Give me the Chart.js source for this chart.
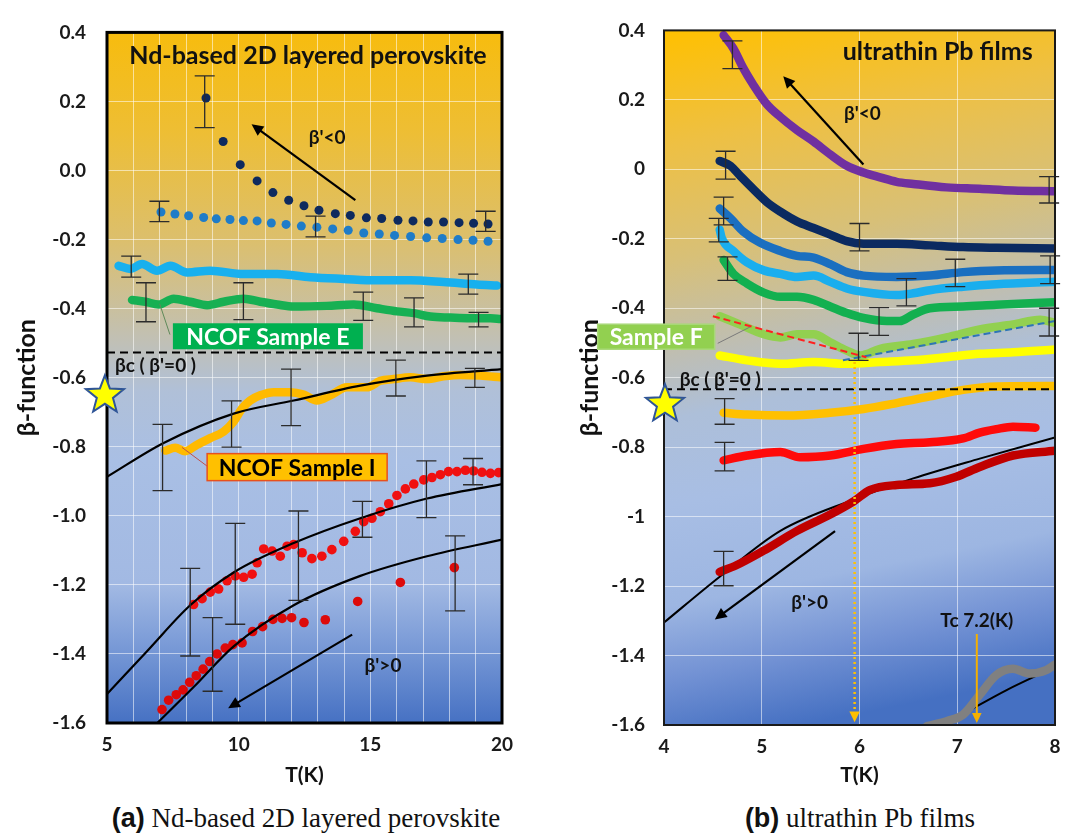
<!DOCTYPE html>
<html>
<head>
<meta charset="utf-8">
<script src="https://cdn.jsdelivr.net/npm/chart.js@4.4.1/dist/chart.umd.min.js"></script>
<style>
  body { margin: 0; background: #fff; width: 1072px; height: 837px; position: relative; overflow: hidden; }
  #wrapA { position: absolute; left: 0; top: 0; }
  #wrapB { position: absolute; left: 545px; top: 0; }
  .caption { position: absolute; top: 802px; height: 32px; line-height: 32px; text-align: center;
             font-family: "Liberation Serif", serif; font-size: 27px; color: #111; }
  .caption b { font-family: "Liberation Sans Narrow", "Liberation Sans", sans-serif; font-stretch: condensed; }
</style>
</head>
<body>
<div id="wrapA"><canvas id="chartA" width="545" height="795"></canvas></div>
<div id="wrapB"><canvas id="chartB" width="527" height="795"></canvas></div>
<div class="caption" style="left:0;width:612px"><b>(a)</b> Nd-based 2D layered perovskite</div>
<div class="caption" style="left:560px;width:600px"><b>(b)</b> ultrathin Pb films</div>

<script>
// ---------- (a) Nd-based 2D layered perovskite : [T(K), beta] ----------
const aNavy = [[8.76,0.21],[9.41,0.084],[10.06,0.017],[10.70,-0.030],[11.30,-0.064],[11.90,-0.086],[12.48,-0.102],
  [13.05,-0.115],[13.67,-0.125],[14.24,-0.130],[14.85,-0.137],[15.43,-0.139],[16.05,-0.144],[16.62,-0.146],
  [17.20,-0.149],[17.78,-0.149],[18.37,-0.151],[18.92,-0.153],[19.47,-0.155]];
const aBlue = [[7.05,-0.120],[7.58,-0.126],[8.10,-0.131],[8.67,-0.136],[9.15,-0.140],[9.67,-0.142],[10.18,-0.145],
  [10.70,-0.146],[11.24,-0.152],[11.80,-0.156],[12.38,-0.161],[12.97,-0.164],[13.57,-0.169],[14.16,-0.173],
  [14.75,-0.181],[15.34,-0.184],[15.92,-0.188],[16.53,-0.191],[17.14,-0.195],[17.73,-0.197],[18.33,-0.200],
  [18.90,-0.202],[19.47,-0.205]];
const aCyan = [[5.44,-0.276],[5.89,-0.285],[6.33,-0.271],[6.90,-0.290],[7.41,-0.276],[8.04,-0.295],[8.92,-0.290],
  [10.19,-0.300],[11.46,-0.300],[12.72,-0.309],[13.99,-0.314],[15.25,-0.318],[16.52,-0.318],[17.78,-0.323],
  [19.05,-0.330],[19.81,-0.333]];
const aGreen = [[5.95,-0.375],[6.46,-0.380],[6.96,-0.388],[7.53,-0.371],[8.16,-0.380],[8.80,-0.390],[9.43,-0.380],
  [10.19,-0.371],[10.82,-0.380],[11.46,-0.388],[12.09,-0.394],[13.35,-0.392],[14.37,-0.388],[15.25,-0.399],
  [16.01,-0.408],[16.65,-0.413],[17.28,-0.423],[18.04,-0.426],[18.80,-0.428],[19.56,-0.428],[19.94,-0.430]];
const aSampleI = [[7.22,-0.811],[7.59,-0.803],[7.97,-0.813],[8.42,-0.794],[8.92,-0.775],[9.43,-0.756],[9.81,-0.727],
  [10.13,-0.689],[10.44,-0.666],[10.82,-0.651],[11.33,-0.642],[11.96,-0.642],[12.47,-0.649],[12.97,-0.666],
  [13.48,-0.651],[14.11,-0.628],[14.87,-0.628],[15.38,-0.609],[15.89,-0.604],[16.52,-0.599],[17.15,-0.604],
  [17.78,-0.596],[18.42,-0.592],[19.18,-0.594],[19.94,-0.599]];
const aRed = [[8.29,-1.257],[8.61,-1.240],[8.92,-1.221],[9.24,-1.212],[9.56,-1.188],[9.87,-1.174],[10.19,-1.178],
  [10.51,-1.169],[10.70,-1.136],[10.95,-1.096],[11.27,-1.102],[11.58,-1.117],[11.84,-1.088],[12.09,-1.083],
  [12.41,-1.107],[12.78,-1.124],[13.16,-1.117],[13.54,-1.098],[13.99,-1.074],[14.43,-1.045],[14.75,-1.017],
  [15.06,-1.007],[15.38,-0.988],[15.70,-0.965],[16.01,-0.941],[16.33,-0.922],[16.65,-0.908],[17.03,-0.896],
  [17.34,-0.889],[17.66,-0.881],[17.97,-0.872],[18.29,-0.872],[18.61,-0.868],[18.92,-0.870],[19.24,-0.874],
  [19.56,-0.877],[19.87,-0.875]];
const aDarkRed = [[7.09,-1.561],[7.34,-1.534],[7.63,-1.518],[7.89,-1.504],[8.14,-1.482],[8.39,-1.463],[8.65,-1.444],
  [8.90,-1.422],[9.18,-1.400],[9.49,-1.383],[9.78,-1.373],[10.13,-1.368],[10.53,-1.335],[10.91,-1.321],
  [11.30,-1.300],[11.65,-1.297],[12.01,-1.295],[12.48,-1.309],[13.29,-1.301],[14.52,-1.248],[16.14,-1.193],
  [18.19,-1.150]];
const aFit1 = [[5.0,-0.887],[7.15,-0.789],[9.81,-0.704],[12.09,-0.666],[14.62,-0.623],[17.15,-0.594],[20.0,-0.575]];
const aFit2 = [[5.0,-1.516],[6.52,-1.392],[8.16,-1.259],[9.81,-1.164],[12.09,-1.079],[14.62,-1.007],[17.15,-0.950],[20.0,-0.908]];
const aFit3 = [[6.90,-1.601],[8.29,-1.496],[9.81,-1.378],[12.09,-1.259],[14.62,-1.174],[17.15,-1.117],[20.0,-1.069]];
const aBetaC = -0.527;
// error bars: [T, low, high]
const aErr = [[8.71,0.124,0.274],[6.99,-0.148,-0.089],[12.92,-0.192,-0.132],[19.38,-0.176,-0.118],
  [5.92,-0.309,-0.248],[6.48,-0.438,-0.325],[10.18,-0.432,-0.325],[14.73,-0.434,-0.352],[16.66,-0.453,-0.369],
  [18.72,-0.358,-0.300],[19.11,-0.453,-0.411],[11.99,-0.739,-0.575],[15.97,-0.653,-0.549],[18.97,-0.628,-0.573],
  [7.11,-0.927,-0.735],[9.73,-0.801,-0.667],[8.16,-1.406,-1.152],[9.87,-1.314,-1.022],[12.27,-1.245,-0.986],
  [14.70,-1.062,-0.958],[17.13,-1.005,-0.841],[18.90,-0.910,-0.834],[9.01,-1.508,-1.295],[18.22,-1.275,-1.058]];
const aXTicks = [5, 10, 15, 20];

// ---------- (b) ultrathin Pb films ----------
const rPurple = [[4.61,0.386],[4.71,0.348],[4.81,0.292],[4.91,0.245],[5.05,0.188],[5.19,0.151],[5.36,0.113],[5.53,0.080],
  [5.70,0.043],[5.87,0.010],[6.04,-0.009],[6.21,-0.023],[6.38,-0.036],[6.55,-0.042],[6.89,-0.052],[7.23,-0.056],
  [7.57,-0.061],[8.00,-0.063]];
const rNavy = [[4.57,0.024],[4.68,0.010],[4.78,-0.019],[4.91,-0.056],[5.05,-0.094],[5.19,-0.122],[5.36,-0.150],
  [5.53,-0.169],[5.70,-0.188],[5.87,-0.207],[6.04,-0.214],[6.38,-0.214],[6.72,-0.219],[7.06,-0.224],[7.40,-0.226],
  [8.00,-0.228]];
const rBlue = [[4.57,-0.113],[4.68,-0.141],[4.81,-0.179],[4.98,-0.211],[5.19,-0.235],[5.36,-0.249],[5.53,-0.254],
  [5.70,-0.273],[5.87,-0.296],[6.04,-0.306],[6.38,-0.310],[6.72,-0.306],[7.06,-0.296],[7.40,-0.291],[8.00,-0.290]];
const rCyan = [[4.57,-0.174],[4.59,-0.197],[4.71,-0.235],[4.85,-0.268],[5.02,-0.291],[5.19,-0.301],[5.36,-0.310],
  [5.53,-0.306],[5.70,-0.324],[5.87,-0.343],[6.04,-0.353],[6.38,-0.362],[6.55,-0.357],[6.72,-0.348],[7.06,-0.338],
  [7.40,-0.331],[8.00,-0.324]];
const rGreen = [[4.61,-0.261],[4.71,-0.301],[4.85,-0.329],[5.02,-0.355],[5.19,-0.367],[5.36,-0.367],[5.53,-0.376],
  [5.70,-0.395],[5.87,-0.414],[6.04,-0.428],[6.28,-0.437],[6.41,-0.437],[6.55,-0.418],[6.72,-0.400],[7.06,-0.395],
  [7.40,-0.390],[8.00,-0.383]];
const rSampleF = [[4.57,-0.423],[4.78,-0.447],[5.02,-0.475],[5.19,-0.484],[5.36,-0.475],[5.53,-0.475],[5.70,-0.498],
  [5.87,-0.522],[6.01,-0.536],[6.21,-0.517],[6.55,-0.503],[6.89,-0.484],[7.23,-0.461],[7.57,-0.447],[7.85,-0.433],
  [8.00,-0.442]];
const rYellow = [[4.57,-0.536],[4.85,-0.550],[5.19,-0.560],[5.53,-0.555],[5.87,-0.560],[6.21,-0.555],[6.55,-0.550],
  [6.89,-0.541],[7.23,-0.531],[7.57,-0.527],[8.00,-0.519]];
const rOrange = [[4.61,-0.701],[4.85,-0.706],[5.25,-0.709],[5.70,-0.701],[6.04,-0.690],[6.38,-0.673],[6.72,-0.654],
  [7.06,-0.635],[7.40,-0.625],[8.00,-0.624]];
const rRed = [[4.61,-0.838],[4.85,-0.824],[5.19,-0.814],[5.39,-0.829],[5.70,-0.824],[6.04,-0.805],[6.38,-0.791],
  [6.72,-0.786],[7.06,-0.775],[7.23,-0.758],[7.40,-0.748],[7.57,-0.741],[7.80,-0.744]];
const rDarkRed = [[4.57,-1.159],[4.74,-1.140],[5.02,-1.098],[5.36,-1.041],[5.70,-0.994],[5.94,-0.956],[6.11,-0.923],
  [6.38,-0.909],[6.72,-0.904],[6.99,-0.885],[7.23,-0.857],[7.57,-0.824],[8.00,-0.810]];
const rGray = [[6.69,-1.603],[6.89,-1.589],[7.06,-1.570],[7.23,-1.513],[7.40,-1.456],[7.57,-1.438],[7.74,-1.452],
  [7.91,-1.442],[8.00,-1.426]];
const rFit = [[4.0,-1.305],[4.57,-1.173],[5.19,-1.041],[5.94,-0.951],[6.55,-0.890],[7.23,-0.833],[8.0,-0.772]];
const rFitTc = [[7.06,-1.568],[7.5,-1.500],[8.0,-1.433]];
const rRedDash = [[4.50,-0.423],[6.07,-0.541]];
const rBlueDash = [[5.83,-0.550],[8.00,-0.437]];
const rBetaC = -0.633;
const rErr = [[4.70,0.290,0.370],[4.63,-0.028,0.052],[4.61,-0.160,-0.080],[4.56,-0.209,-0.141],[4.65,-0.320,-0.252],
  [6.00,-0.235,-0.156],[7.94,-0.097,-0.021],[6.98,-0.338,-0.259],[6.48,-0.393,-0.315],[7.95,-0.329,-0.249],
  [6.20,-0.478,-0.398],[7.94,-0.480,-0.400],[5.99,-0.550,-0.472],[4.62,-0.734,-0.660],[4.62,-0.868,-0.786],
  [4.61,-1.199,-1.100]];
const rTc = 7.2;
const rMarkT = 5.95;

// ---------- helpers ----------
const xy = arr => arr.map(p => ({ x: p[0], y: p[1] }));

function dots(data, color, r) {
  return { data: xy(data), showLine: false, pointRadius: r, pointHoverRadius: r,
           backgroundColor: color, pointBorderWidth: 0, borderWidth: 0 };
}
function band(data, color, w) {
  return { data: xy(data), showLine: true, borderColor: color, borderWidth: w, pointRadius: 0,
           cubicInterpolationMode: 'monotone', borderCapStyle: 'round', borderJoinStyle: 'round' };
}
function curve(data, color, w, dash) {
  return { data: xy(data), showLine: true, borderColor: color, borderWidth: w, pointRadius: 0,
           cubicInterpolationMode: 'monotone', borderDash: dash || [] };
}
function flat(y, x0, x1, color, w, dash) {
  return curve([[x0, y], [x1, y]], color, w, dash);
}

function starPath(ctx, cx, cy, R, r) {
  ctx.beginPath();
  for (let i = 0; i < 10; i++) {
    const a = -Math.PI / 2 + i * Math.PI / 5;
    const rad = i % 2 ? r : R;
    ctx.lineTo(cx + rad * Math.cos(a), cy + rad * Math.sin(a));
  }
  ctx.closePath();
}

function arrow(ctx, x1, y1, x2, y2, color, w, head, dash) {
  const ang = Math.atan2(y2 - y1, x2 - x1);
  ctx.save();
  ctx.strokeStyle = color; ctx.fillStyle = color; ctx.lineWidth = w;
  ctx.setLineDash(dash || []);
  ctx.beginPath(); ctx.moveTo(x1, y1);
  ctx.lineTo(x2 - Math.cos(ang) * head * 0.8, y2 - Math.sin(ang) * head * 0.8); ctx.stroke();
  ctx.setLineDash([]);
  ctx.beginPath();
  ctx.moveTo(x2, y2);
  ctx.lineTo(x2 - head * Math.cos(ang - 0.45), y2 - head * Math.sin(ang - 0.45));
  ctx.lineTo(x2 - head * Math.cos(ang + 0.45), y2 - head * Math.sin(ang + 0.45));
  ctx.closePath(); ctx.fill();
  ctx.restore();
}

const decoFor = {};

const decoPlugin = {
  id: 'deco',
  beforeDraw(chart) {
    const d = decoFor[chart.canvas.id];
    const { ctx, chartArea: a } = chart;
    const g = ctx.createLinearGradient(a.left, a.top, a.left + (a.right - a.left) * d.tilt, a.bottom);
    d.stops.forEach(s => g.addColorStop(s[0], s[1]));
    ctx.save();
    ctx.fillStyle = g;
    ctx.fillRect(a.left, a.top, a.right - a.left, a.bottom - a.top);
    ctx.restore();
  },
  afterDatasetsDraw(chart) {
    const d = decoFor[chart.canvas.id];
    const { ctx, chartArea: a } = chart;
    const xs = chart.scales.x, ys = chart.scales.y;
    const X = v => xs.getPixelForValue(v), Y = v => ys.getPixelForValue(v);
    ctx.save();

    // error bars
    ctx.strokeStyle = '#2b2b2b'; ctx.lineWidth = 1.3;
    d.errs.forEach(([t, lo, hi]) => {
      const x = X(t), y1 = Y(lo), y2 = Y(hi), c = d.cap;
      ctx.beginPath();
      ctx.moveTo(x, y1); ctx.lineTo(x, y2);
      ctx.moveTo(x - c, y1); ctx.lineTo(x + c, y1);
      ctx.moveTo(x - c, y2); ctx.lineTo(x + c, y2);
      ctx.stroke();
    });

    // frame
    ctx.strokeStyle = d.frame[1]; ctx.lineWidth = d.frame[0];
    ctx.strokeRect(a.left, a.top, a.right - a.left, a.bottom - a.top);

    // leader lines
    d.leaders.forEach(([x1, y1, x2, y2, c]) => {
      ctx.strokeStyle = c; ctx.lineWidth = 1;
      ctx.beginPath(); ctx.moveTo(X(x1), Y(y1)); ctx.lineTo(X(x2), Y(y2)); ctx.stroke();
    });

    // arrows
    d.arrows.forEach(ar => arrow(ctx, X(ar[0]), Y(ar[1]), X(ar[2]), Y(ar[3]), ar[4] || '#000', ar[5] || 2.2, ar[6] || 13, ar[7]));

    // label boxes
    d.boxes.forEach(b => {
      const cx = X(b.x), cy = Y(b.y);
      ctx.fillStyle = b.fill;
      ctx.fillRect(cx - b.w / 2, cy - b.h / 2, b.w, b.h);
      if (b.stroke) { ctx.strokeStyle = b.stroke; ctx.lineWidth = 1.5; ctx.strokeRect(cx - b.w / 2, cy - b.h / 2, b.w, b.h); }
      ctx.fillStyle = b.color; ctx.font = 'bold 23px Lato'; ctx.textAlign = 'center'; ctx.textBaseline = 'middle';
      ctx.fillText(b.t, cx, cy + 1);
    });

    // texts
    d.texts.forEach(t => {
      ctx.fillStyle = '#111'; ctx.font = t.f; ctx.textAlign = t.a || 'center'; ctx.textBaseline = 'middle';
      ctx.fillText(t.t, X(t.x), Y(t.y));
    });

    // stars
    d.stars.forEach(([sx, sy]) => {
      starPath(ctx, X(sx), Y(sy), 20, 8.5);
      ctx.fillStyle = '#FFFF00'; ctx.fill();
      ctx.strokeStyle = '#2F5597'; ctx.lineWidth = 2; ctx.stroke();
    });
    ctx.restore();
  }
};

function makeOptions(c) {
  const tickFont = { family: 'Lato', weight: 'bold', size: 19 };
  return {
    responsive: false, animation: false, events: [],
    layout: { padding: c.pad },
    plugins: { legend: { display: false }, tooltip: { enabled: false } },
    scales: {
      x: {
        type: 'linear', min: c.xmin, max: c.xmax,
        afterFit: s => { s.height = c.xh; },
        grid: { color: 'rgba(255,255,255,0.55)', lineWidth: 1, drawTicks: false },
        border: { display: false },
        ticks: { stepSize: 1, autoSkip: false, maxRotation: 0, padding: 10, color: '#1a1a1a', font: tickFont,
                 callback: c.xlabel },
        title: { display: true, text: 'T(K)', color: '#111', font: { family: 'Lato', weight: 'bold', size: 21 },
                 padding: { bottom: 7 } }
      },
      y: {
        type: 'linear', min: -1.6, max: 0.4,
        afterFit: s => { s.width = c.yw; },
        grid: { color: 'rgba(255,255,255,0.55)', lineWidth: 1, drawTicks: false },
        border: { display: false },
        ticks: { stepSize: 0.2, autoSkip: false, padding: c.ypad, color: '#1a1a1a', font: tickFont,
                 callback: c.ylabel },
        title: { display: true, text: 'β-function', color: '#111', font: { family: 'Lato', weight: 'bold', size: 25 },
                 padding: { top: c.ytitle } }
      }
    }
  };
}

// ---------- chart (a) ----------
decoFor.chartA = {
  tilt: 0,
  stops: [[0, '#F7BC0E'], [0.14, '#EEBE33'], [0.3, '#DCBF6C'], [0.44, '#C2C0B2'], [0.52, '#B0C0D8'],
          [0.62, '#A9BFE4'], [0.8, '#A2B9E3'], [0.88, '#7D9DD8'], [1, '#4671C3']],
  frame: [3, '#000'],
  cap: 10,
  errs: aErr,
  leaders: [[7.39, -0.475, 7.0, -0.386, '#5f8a5a'], [8.80, -0.856, 7.85, -0.802, '#c0504d']],
  arrows: [[14.43, -0.086, 10.49, 0.134], [14.31, -1.344, 9.60, -1.557]],
  boxes: [
    { t: 'NCOF Sample E', x: 11.11, y: -0.480, w: 190, h: 26, fill: '#00B050', stroke: null, color: '#fff' },
    { t: 'NCOF Sample I', x: 12.22, y: -0.859, w: 180, h: 27, fill: '#FFC000', stroke: '#E8501E', color: '#000' }
  ],
  texts: [
    { t: 'Nd-based 2D layered perovskite', x: 12.63, y: 0.332, f: 'bold 25px Lato' },
    { t: "β'<0", x: 13.36, y: 0.095, f: 'bold 19px Lato' },
    { t: "βc ( β'=0 )", x: 5.3, y: -0.566, f: 'bold 19px Lato', a: 'left' },
    { t: "β'>0", x: 15.48, y: -1.435, f: 'bold 19px Lato' }
  ],
  stars: [[4.92, -0.651]]
};

new Chart(document.getElementById('chartA'), {
  type: 'scatter',
  data: {
    datasets: [
      curve(aFit1, '#000', 2.2), curve(aFit2, '#000', 2.2), curve(aFit3, '#000', 2.2),
      flat(aBetaC, 5, 20, '#000', 2, [8, 5]),
      dots(aNavy, '#0E2A5E', 4.5),
      dots(aBlue, '#1F7CC8', 4.5),
      band(aCyan, '#18B0EE', 8.5),
      band(aGreen, '#17B053', 8.5),
      band(aSampleI, '#FFBA00', 8.5),
      dots(aRed, '#F01010', 4.8),
      dots(aDarkRed, '#DD0A0A', 4.8)
    ]
  },
  options: makeOptions({
    pad: { left: 0, top: 21, right: 43, bottom: 0 }, xmin: 5, xmax: 20, xh: 72, yw: 107, ypad: 21, ytitle: 12,
    xlabel: v => (aXTicks.includes(v) ? String(v) : ''),
    ylabel: v => (Math.round(v * 10) / 10).toFixed(1)
  }),
  plugins: [decoPlugin]
});

// ---------- chart (b) ----------
decoFor.chartB = {
  tilt: 0.35,
  stops: [[0, '#FFC000'], [0.16, '#EEC043'], [0.32, '#D8C077'], [0.46, '#BDBEB6'], [0.54, '#ADBFD9'],
          [0.66, '#A8BEE4'], [0.8, '#9DB6E2'], [0.9, '#7392D4'], [1, '#4570C2']],
  frame: [2, '#1a1a1a'],
  cap: 10,
  errs: rErr,
  leaders: [[4.55, -0.501, 4.88, -0.454, '#7a7a7a']],
  arrows: [[6.04, 0.014, 5.22, 0.268], [5.75, -1.042, 4.52, -1.296],
           [rMarkT, -0.555, rMarkT, -1.592, '#FFC000', 2.5, 12, [2, 3]],
           [rTc, -1.338, rTc, -1.594, '#F5B000', 2, 11]],
  boxes: [
    { t: 'Sample F', x: 3.92, y: -0.482, w: 117, h: 25, fill: '#92D050', stroke: '#a8d878', color: '#fff' }
  ],
  texts: [
    { t: 'ultrathin Pb films', x: 6.80, y: 0.338, f: 'bold 25px Lato' },
    { t: "β'<0", x: 6.03, y: 0.160, f: 'bold 19px Lato' },
    { t: "βc ( β'=0 )", x: 4.16, y: -0.606, f: 'bold 19px Lato', a: 'left' },
    { t: "β'>0", x: 5.49, y: -1.248, f: 'bold 19px Lato' },
    { t: 'Tc 7.2(K)', x: 7.20, y: -1.299, f: 'bold 19px Lato' }
  ],
  stars: [[4.01, -0.676]]
};

new Chart(document.getElementById('chartB'), {
  type: 'scatter',
  data: {
    datasets: [
      flat(rBetaC, 4, 8, '#000', 2, [8, 5]),
      curve(rRedDash, '#FF2020', 2, [7, 4]),
      curve(rBlueDash, '#2E75B6', 2, [7, 4]),
      band(rPurple, '#7030A0', 8.5),
      band(rNavy, '#0B2A60', 8.5),
      band(rBlue, '#1A6FC0', 8.5),
      band(rCyan, '#1AAEEE', 8.5),
      band(rGreen, '#13B050', 8.5),
      band(rSampleF, '#92D050', 8.5),
      band(rYellow, '#FFFF00', 8.5),
      band(rOrange, '#FFC000', 8.5),
      band(rRed, '#FF0A0A', 8.5),
      band(rDarkRed, '#C00000', 8.5),
      band(rGray, '#808080', 8.5),
      curve(rFit, '#000', 2), curve(rFitTc, '#000', 2)
    ]
  },
  options: makeOptions({
    pad: { left: 0, top: 15, right: 17, bottom: 0 }, xmin: 4, xmax: 8, xh: 70, yw: 119, ypad: 19, ytitle: 30,
    xlabel: v => String(v),
    ylabel: v => String(Math.round(v * 10) / 10)
  }),
  plugins: [decoPlugin]
});
</script>
</body>
</html>
